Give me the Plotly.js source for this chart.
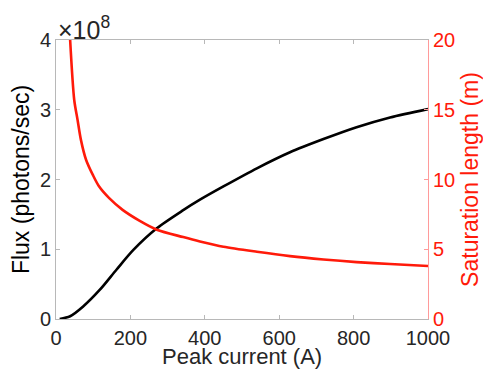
<!DOCTYPE html>
<html>
<head>
<meta charset="utf-8">
<script src="https://cdn.plot.ly/plotly-3.0.1.min.js"></script>
<style>html,body{margin:0;padding:0;background:#fff;}#chart{width:483px;height:369px;}</style>
</head>
<body>
<div id="chart"></div>
<script>
// Peak current (A) and flux (photons/sec) — black curve, left axis
const fluxCurrent = [10, 38, 73, 118, 163, 208, 271, 342, 387, 450, 540, 629, 719, 808, 898, 1000];
const fluxValues = [0, 0.04e8, 0.18e8, 0.42e8, 0.71e8, 0.99e8, 1.30e8, 1.56e8, 1.71e8, 1.90e8, 2.16e8, 2.39e8, 2.58e8, 2.75e8, 2.89e8, 3.01e8];
// Peak current (A) and saturation length (m) — red curve, right axis
const satCurrent = [38, 49, 58, 67, 81, 99, 116, 143, 179, 224, 271, 342, 387, 450, 540, 629, 719, 808, 898, 1000];
const satLength = [20.0, 15.7, 14.27, 12.84, 11.4, 10.33, 9.49, 8.66, 7.82, 7.05, 6.4, 5.87, 5.56, 5.18, 4.82, 4.51, 4.27, 4.08, 3.94, 3.8];
// Tick labels
const xTicks = [0, 200, 400, 600, 800, 1000];
const yTickVals = [0, 1e8, 2e8, 3e8, 4e8];
const yTickText = ['0', '1', '2', '3', '4'];
const y2Ticks = [0, 5, 10, 15, 20];

const font = 'Liberation Sans, Arial, sans-serif';
const grey = '#b8b8b8';
const txt = '#262626';
const red = '#ff1a0a';

const traces = [
  {x: fluxCurrent, y: fluxValues, type: 'scatter', mode: 'lines', line: {color: '#000000', width: 2.6, shape: 'spline', smoothing: 0.8}, yaxis: 'y', hoverinfo: 'skip'},
  {x: satCurrent, y: satLength, type: 'scatter', mode: 'lines', line: {color: red, width: 2.6, shape: 'spline', smoothing: 0.8}, yaxis: 'y2', hoverinfo: 'skip'}
];

const layout = {
  width: 483, height: 369,
  margin: {l: 56, r: 55, t: 40, b: 50, pad: 0},
  paper_bgcolor: '#ffffff', plot_bgcolor: '#ffffff',
  showlegend: false,
  font: {family: font, color: txt, size: 20},
  xaxis: {
    range: [0, 1000], tickvals: xTicks, ticks: 'inside', ticklen: 4, tickcolor: grey,
    showline: true, linecolor: grey, linewidth: 1, mirror: 'ticks',
    showgrid: false, zeroline: false, ticklabelstandoff: 1,
    tickfont: {family: font, size: 20, color: txt}
  },
  yaxis: {
    range: [0, 4e8], tickvals: yTickVals, ticktext: yTickText, ticks: 'inside', ticklen: 4, tickcolor: grey,
    showline: true, linecolor: grey, linewidth: 1, mirror: false,
    showgrid: false, zeroline: false,
    tickfont: {family: font, size: 20, color: txt},
    title: {text: 'Flux (photons/sec)', font: {family: font, size: 23, color: '#000000'}, standoff: 3}
  },
  yaxis2: {
    overlaying: 'y', side: 'right', range: [0, 20], tickvals: y2Ticks,
    ticks: 'inside', ticklen: 4, tickcolor: '#ff9a9a',
    showline: true, linecolor: '#ff9a9a', linewidth: 1,
    showgrid: false, zeroline: false,
    tickfont: {family: font, size: 20, color: red},
    title: {text: 'Saturation length (m)', font: {family: font, size: 23, color: red}, standoff: 12}
  },
  annotations: [
    {
      xref: 'paper', yref: 'paper', x: 0, y: 1, xanchor: 'left', yanchor: 'bottom',
      xshift: 0, yshift: -6, showarrow: false, text: '×10<sup>8</sup>',
      font: {family: font, size: 25, color: txt}
    },
    {
      xref: 'paper', yref: 'paper', x: 0.5, y: 0, xanchor: 'center', yanchor: 'middle',
      yshift: -37, showarrow: false, text: 'Peak current (A)',
      font: {family: font, size: 22, color: txt}
    }
  ]
};

Plotly.newPlot('chart', traces, layout, {staticPlot: true, displayModeBar: false});
</script>
</body>
</html>
